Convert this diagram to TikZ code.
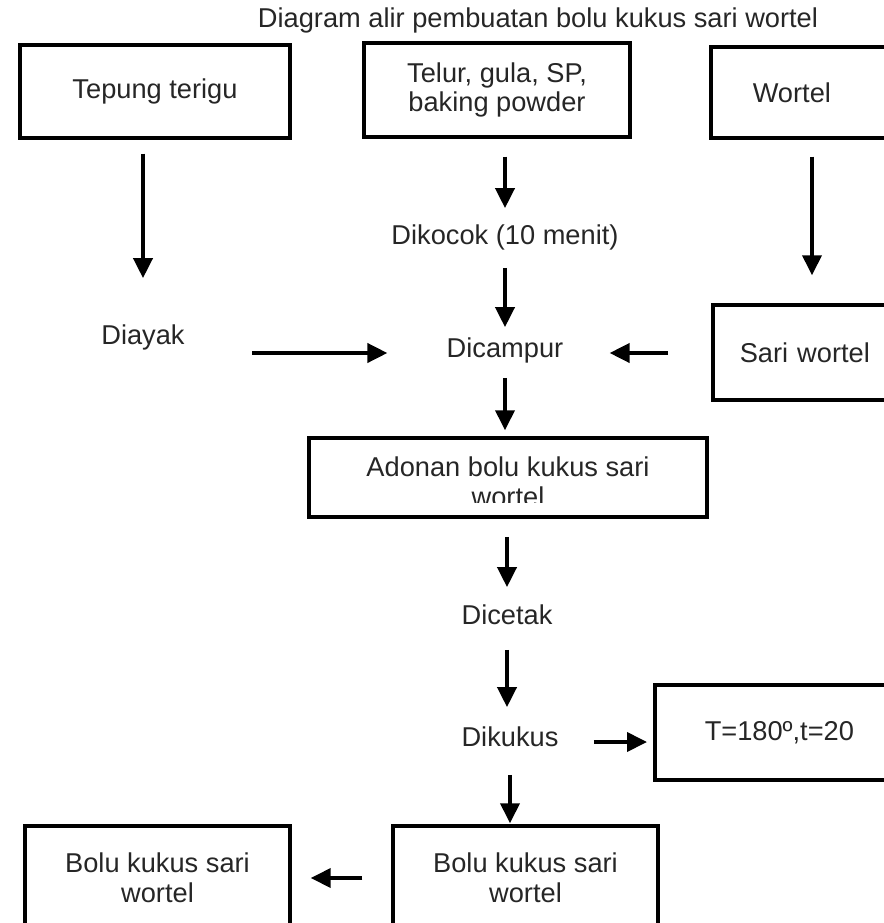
\documentclass[tikz,border=0pt]{standalone}
\usepackage{fontspec}
\setmainfont{Liberation Sans}
\usetikzlibrary{positioning, arrows.meta}

\begin{document}
\begin{tikzpicture}[
            x=0.02cm, y=-0.02cm,
            font=\fontsize{15.5pt}{17pt}\selectfont,
            >={Triangle[length=0.4cm, width=0.38cm]},
            box/.style={draw, line width=2pt, rectangle, align=center, text=black!85},
            sidebox/.style={box, anchor=west, align=left, text width=4cm},
            txt/.style={inner sep=0pt, text height=0.75em, text depth=0.22em, text=black!85},
            arr/.style={->, line width=2.2pt},
        ]
            \useasboundingbox (0,0) rectangle (884,923);
            \clip (0,0) rectangle (884,923);

            % Title
            \node[txt] (title) at (538,23) {Diagram alir pembuatan bolu kukus sari wortel};

            % Draw the ingredient boxes
            \node[box, minimum width=5.4cm, minimum height=1.86cm] (tepung) at (155,91.5) {Tepung terigu};
            \node[box, minimum width=5.32cm, minimum height=1.88cm] (telur) at (497,90) {Telur, gula, SP,\\baking powder};
            \node[sidebox, minimum height=1.82cm, inner xsep=0.84cm] (wortel) at (709,92.5) {Wortel};

            % Draw the process steps
            \node[txt] (diayak) at (143,340) {Diayak};
            \node[txt] (dikocok) at (505,240) {Dikocok (10 menit)};
            \node[txt] (dicampur) at (505,353) {Dicampur};
            \node[sidebox, minimum height=1.9cm, inner xsep=0.54cm] (sari) at (711,352.5) {Sari wortel};

            \begin{scope}
                \clip (309,440) rectangle (707,502);
                \node[inner sep=0pt, align=center, text=black!85] (adonan-text) at (508,482) {Adonan bolu kukus sari\\wortel};
            \end{scope}
            \node[box, minimum width=7.96cm, minimum height=1.58cm] (adonan) at (508,477.5) {};

            \node[txt] (dicetak) at (507,620) {Dicetak};
            \node[txt] (dikukus) at (510,742) {Dikukus};
            \node[sidebox, minimum height=1.9cm, inner xsep=1.0cm] (suhu) at (653,732.5) {T=180º,t=20};

            % Draw the end products
            \node[box, minimum width=5.3cm, minimum height=2.08cm] (bolu-2) at (525.5,878) {Bolu kukus sari\\wortel};
            \node[box, minimum width=5.3cm, minimum height=2.08cm] (bolu-1) at (157.5,878) {Bolu kukus sari\\wortel};

            % Connect the steps
            \draw[arr, shorten <=0.28cm, shorten >=1.06cm] (tepung.south -| diayak) -- (diayak.north);
            \draw[arr, shorten <=0.36cm, shorten >=0.46cm] (telur.south -| dikocok) -- (dikocok.north);
            \draw[arr, shorten <=0.38cm, shorten >=0.34cm] (dikocok.south) -- (dicampur.north);
            \draw[arr, shorten <=0.34cm, shorten >=0.56cm] (wortel.south -| 812,0) -- (sari.north -| 812,0);
            \draw[arr, shorten <=1.35cm, shorten >=1.18cm] (diayak.east |- dicampur) -- (dicampur.west);
            \draw[arr, shorten <=0.86cm, shorten >=0.92cm] (sari.west |- dicampur) -- (dicampur.east);
            \draw[arr, shorten <=0.32cm, shorten >=0.12cm] (dicampur.south) -- (dicampur.south |- adonan.north);
            \draw[arr, shorten <=0.36cm, shorten >=0.48cm] (adonan.south -| dicetak) -- (dicetak.north);
            \draw[arr, shorten <=0.42cm, shorten >=0.52cm] (dicetak.south) -- (dicetak.south |- dikukus.north);
            \draw[arr, shorten <=0.7cm, shorten >=0.12cm] (dikukus.east) -- (dikukus.east -| suhu.west);
            \draw[arr, shorten <=0.48cm, shorten >=0.02cm] (dikukus.south) -- (dikukus.south |- bolu-2.north);
            \draw[arr, shorten <=0.58cm, shorten >=0.38cm] (bolu-2.west) -- (bolu-1.east);
        \end{tikzpicture}
\end{document}
